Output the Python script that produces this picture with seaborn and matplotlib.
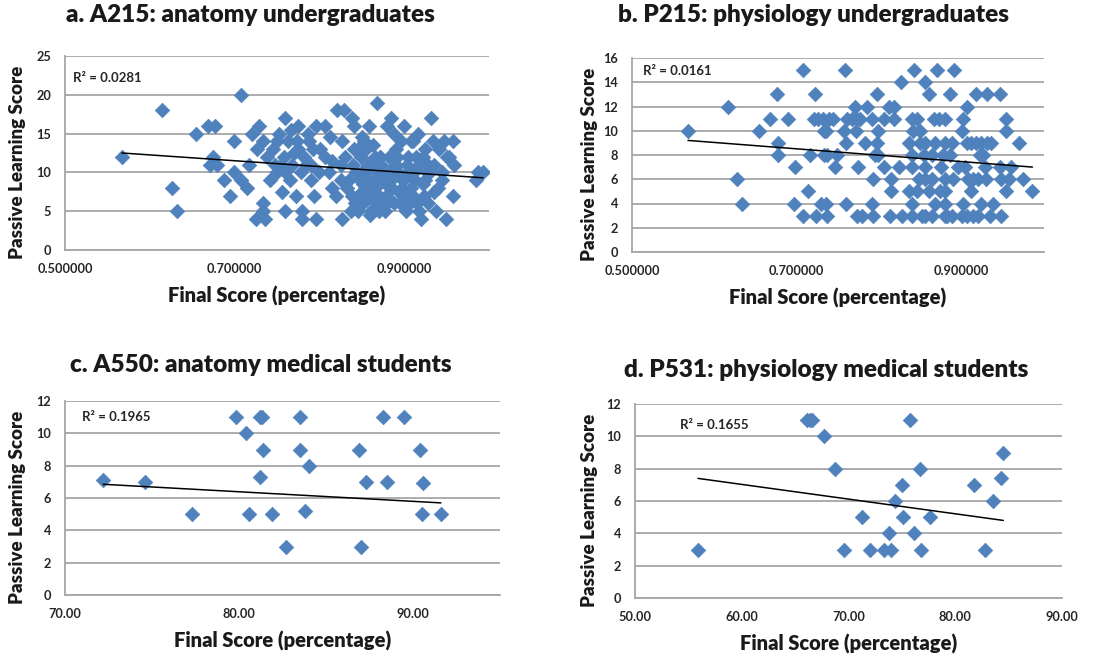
import matplotlib
matplotlib.use("Agg")
import matplotlib.pyplot as plt
import seaborn as sns
import numpy as np
from matplotlib.ticker import FormatStrFormatter, MultipleLocator

# ---------------- data ----------------
titles = ["a. A215: anatomy undergraduates", "b. P215: physiology undergraduates",
          "c. A550: anatomy medical students", "d. P531: physiology medical students"]
r2_labels = ["R\u00b2 = 0.0281", "R\u00b2 = 0.0161", "R\u00b2 = 0.1965", "R\u00b2 = 0.1655"]
x_label = "Final Score (percentage)"
y_label = "Passive Learning Score"

a_x = [0.567, 0.614, 0.626, 0.632, 0.654, 0.669, 0.677, 0.671, 0.675, 0.679, 0.688, 0.694, 0.699, 0.699,
       0.708, 0.707, 0.715, 0.717, 0.721, 0.727, 0.729, 0.725, 0.734, 0.736, 0.734, 0.734, 0.738, 0.748,
       0.750, 0.750, 0.756, 0.760, 0.760, 0.760, 0.766, 0.770, 0.772, 0.774, 0.780, 0.780, 0.784, 0.786,
       0.790, 0.792, 0.794, 0.796, 0.796, 0.800, 0.801, 0.807, 0.807, 0.811, 0.813, 0.815, 0.819, 0.821,
       0.829, 0.825, 0.827, 0.827, 0.833, 0.837, 0.839, 0.841, 0.841, 0.843, 0.845, 0.849, 0.851, 0.853,
       0.855, 0.857, 0.859, 0.859, 0.861, 0.863, 0.865, 0.868, 0.868, 0.870, 0.872, 0.874, 0.878, 0.880,
       0.880, 0.882, 0.884, 0.886, 0.888, 0.892, 0.894, 0.896, 0.898, 0.900, 0.902, 0.906, 0.908, 0.910,
       0.914, 0.916, 0.918, 0.920, 0.922, 0.924, 0.928, 0.932, 0.934, 0.935, 0.937, 0.941, 0.945, 0.947,
       0.949, 0.953, 0.957, 0.957, 0.959, 0.985, 0.987, 0.993,
       0.835, 0.840, 0.845, 0.850, 0.852, 0.855, 0.858, 0.862, 0.865, 0.868, 0.872, 0.875, 0.878, 0.882,
       0.886, 0.890, 0.895, 0.898, 0.905, 0.908, 0.912, 0.915, 0.922, 0.925, 0.928, 0.935, 0.940, 0.945,
       0.950, 0.845, 0.860, 0.850, 0.830, 0.825, 0.815, 0.870, 0.890, 0.900, 0.910, 0.930,
       0.745, 0.752, 0.758, 0.763, 0.768, 0.775, 0.778, 0.782, 0.788, 0.742, 0.755, 0.765, 0.775, 0.790,
       0.842, 0.848, 0.856, 0.864, 0.873, 0.877, 0.884, 0.888, 0.893, 0.897, 0.903, 0.907, 0.913, 0.918,
       0.923, 0.927, 0.866, 0.854, 0.846, 0.838]
a_y = [12, 18, 8, 5, 15, 16, 16, 11, 12, 11, 9, 7, 14, 10,
       20, 9, 8, 11, 15, 13, 16, 4, 5, 4, 6, 14, 12, 11,
       14, 10, 7.5, 17, 5, 10, 15.5, 12.5, 7, 14, 4, 5, 11, 15,
       9, 13, 7, 4, 16, 10, 13, 16, 12, 10, 14.5, 8, 7, 18,
       18, 11, 14, 4, 8, 5, 17, 16, 13, 10, 7, 12, 8.5, 14,
       6.5, 11, 16, 9, 5, 13.5, 8, 19, 10, 7, 12, 5.5, 8.5, 16,
       6, 12, 17, 10, 15, 12, 7.5, 14, 9, 16, 5, 10, 14, 7,
       12, 15, 5, 4, 8.5, 13, 11, 17, 14, 7.5, 5, 13, 9, 14,
       4, 12, 14, 7, 11, 9, 10, 10,
       9, 11, 7, 10, 6, 13, 8, 11, 9, 6, 12, 9, 7, 10,
       8, 11, 6, 9, 12, 8, 10, 6, 12, 9, 6, 11, 8, 10,
       12, 5, 4.5, 14.5, 12, 9, 11.5, 5, 13, 7, 14, 10,
       13, 15, 12, 14, 11, 13, 10, 12, 14, 9, 11, 9, 16, 11,
       6, 9, 10, 7, 11, 5, 9, 6, 10, 8, 11, 6, 9, 11,
       7, 10, 12, 8, 13, 7]

b_x = [0.708, 0.759, 0.842, 0.870, 0.891,
       0.826, 0.856,
       0.676, 0.722, 0.797, 0.860, 0.886, 0.918, 0.931, 0.947,
       0.616, 0.771, 0.785, 0.812, 0.818, 0.906,
       0.668, 0.689, 0.721, 0.726, 0.732, 0.739, 0.744, 0.761, 0.767, 0.773, 0.777, 0.791, 0.806, 0.818,
       0.840, 0.846, 0.866, 0.872, 0.880, 0.902, 0.954,
       0.568, 0.654, 0.733, 0.735, 0.757, 0.772, 0.799, 0.841, 0.849, 0.900, 0.954,
       0.677, 0.760, 0.783, 0.797, 0.836, 0.849, 0.856, 0.868, 0.880, 0.888, 0.906, 0.912, 0.918, 0.924,
       0.931, 0.936, 0.970,
       0.677, 0.716, 0.733, 0.737, 0.749, 0.795, 0.799, 0.840, 0.854, 0.864, 0.878, 0.886, 0.922, 0.926,
       0.698, 0.746, 0.774, 0.806, 0.824, 0.840, 0.855, 0.875, 0.896, 0.904, 0.928, 0.946, 0.960,
       0.627, 0.793, 0.814, 0.848, 0.856, 0.864, 0.880, 0.890, 0.908, 0.914, 0.920, 0.930, 0.948, 0.958, 0.974,
       0.713, 0.814, 0.836, 0.846, 0.860, 0.874, 0.880, 0.912, 0.954, 0.986,
       0.633, 0.696, 0.729, 0.735, 0.760, 0.791, 0.840, 0.868, 0.880, 0.902, 0.924, 0.938,
       0.707, 0.723, 0.737, 0.773, 0.779, 0.793, 0.813, 0.828, 0.840, 0.852, 0.856, 0.864, 0.880, 0.882,
       0.888, 0.900, 0.906, 0.914, 0.920, 0.934, 0.948]
b_y = [15] * 5 + [14] * 2 + [13] * 8 + [12] * 6 + [11] * 21 + [10] * 11 + [9] * 17 + [8] * 14 + \
      [7] * 13 + [6] * 15 + [5] * 10 + [4] * 12 + [3] * 21

c_x = [72.2, 74.6, 77.3, 79.8, 80.4, 80.6, 81.2, 81.2, 81.3, 81.4, 81.9, 82.7, 83.5, 83.5, 83.8, 84.0,
       86.9, 87.0, 87.3, 88.3, 88.5, 89.5, 90.4, 90.5, 90.6, 91.6]
c_y = [7.1, 7.0, 5.0, 11, 10, 5, 7.3, 11, 11, 9, 5, 3, 11, 9, 5.2, 8,
       9, 3, 7, 11, 7, 11, 9, 5, 6.9, 5]

d_x = [55.9, 66.1, 66.4, 66.6, 67.7, 68.7, 69.6, 71.3, 72.0, 73.3, 73.8, 74.0, 74.4, 75.0, 75.1, 75.8,
       76.1, 76.7, 76.8, 77.6, 81.8, 82.8, 83.5, 84.3, 84.5]
d_y = [3, 11, 11, 11, 10, 8, 3, 5, 3, 3, 4, 3, 6, 7, 5, 11,
       4, 8, 3, 5, 7, 3, 6, 7.4, 9]

# linear trendlines as printed in the chart
trend_slope = [-7.51, -5.26, -0.0593, -0.0909]
trend_intercept = [16.76, 12.19, 11.13, 12.48]

panels = [(a_x, a_y), (b_x, b_y), (c_x, c_y), (d_x, d_y)]
xlims = [(0.5, 1.0), (0.5, 1.0), (70, 95), (50, 90)]
xticks = [[0.5, 0.7, 0.9], [0.5, 0.7, 0.9], [70, 80, 90], [50, 60, 70, 80, 90]]
xfmt = ["%.6f", "%.6f", "%.2f", "%.2f"]
ylims = [(0, 25), (0, 16), (0, 12), (0, 12)]
ysteps = [5, 2, 2, 2]

# ---------------- style ----------------
sns.set_theme(style="white")
plt.rcParams["font.family"] = ["Lato", "DejaVu Sans"]
plt.rcParams["font.weight"] = "bold"

W, H = 1112, 660
fig = plt.figure(figsize=(W / 100, H / 100), dpi=100)
fig.patch.set_facecolor("white")

# axes rectangles (pixels: left, top, right, bottom)
rects_px = [(65, 56, 489, 250), (632, 58, 1044, 252), (65, 401, 500, 595), (635, 404, 1062, 598)]
title_pos = [(250, 15), (813, 15), (261, 365), (826, 370)]
r2_pos = [(73, 78), (643, 71), (82, 417), (680, 425)]
ylabel_x = [18, 589, 18, 590]

blue = "#4F81BD"
grid_col = "#A6A6A6"
text_col = "#1a1a1a"

for i, ((xs, ys), (l, t, r, b)) in enumerate(zip(panels, rects_px)):
    ax = fig.add_axes([l / W, 1 - b / H, (r - l) / W, (b - t) / H])
    sns.scatterplot(x=xs, y=ys, ax=ax, marker="D", s=55, color=blue, edgecolor=blue,
                    linewidth=0.5, zorder=3)
    tx = np.array([min(xs), max(xs)])
    sns.lineplot(x=tx, y=trend_intercept[i] + trend_slope[i] * tx, ax=ax, color="black",
                 lw=1.1, zorder=4)
    ax.set_xlim(*xlims[i])
    ax.set_ylim(*ylims[i])
    ax.set_xticks(xticks[i])
    ax.xaxis.set_major_formatter(FormatStrFormatter(xfmt[i]))
    ax.yaxis.set_major_locator(MultipleLocator(ysteps[i]))
    ax.grid(axis="y", color=grid_col, lw=1.3, zorder=0)
    ax.grid(axis="x", visible=False)
    ax.set_axisbelow(True)
    for s in ["top", "right"]:
        ax.spines[s].set_visible(False)
    for s in ["left", "bottom"]:
        ax.spines[s].set_color(grid_col)
        ax.spines[s].set_linewidth(1.3)
    ax.tick_params(axis="both", which="major", length=3.5, width=1.0, color=grid_col,
                   labelsize=9.2, labelcolor="#262626", direction="out")
    ax.tick_params(axis="y", pad=6.5)
    ax.tick_params(axis="x", pad=6)
    for lab in ax.get_xticklabels() + ax.get_yticklabels():
        lab.set_fontweight("bold")
    ax.set_xlabel(x_label, fontsize=14.5, fontweight="heavy", color=text_col, labelpad=8)
    ax.set_ylabel(y_label, fontsize=13.5, fontweight="heavy", color=text_col)
    ax.yaxis.set_label_coords((ylabel_x[i] - l) / (r - l), 0.45, transform=ax.transAxes)
    ax.yaxis.label.set_va("center")
    fig.text(title_pos[i][0] / W, 1 - title_pos[i][1] / H, titles[i], ha="center", va="center",
             fontsize=17.5, fontweight="heavy", color=text_col)
    fig.text(r2_pos[i][0] / W, 1 - r2_pos[i][1] / H, r2_labels[i], ha="left", va="center",
             fontsize=9.5, fontweight="bold", color="#262626")

fig.savefig("out.png", dpi=100, facecolor="white")
